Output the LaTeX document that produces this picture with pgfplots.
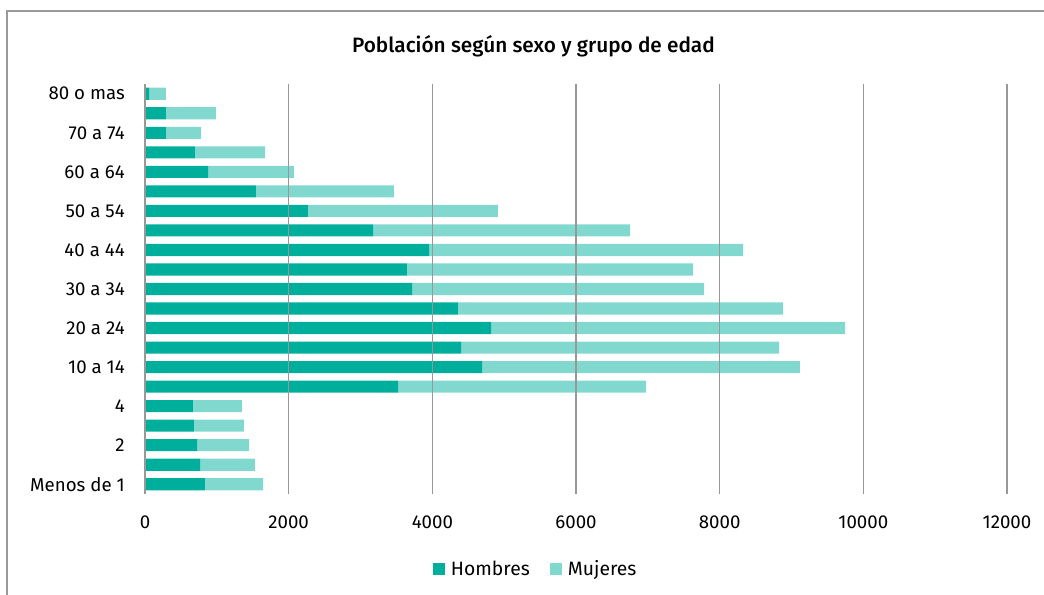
\documentclass[border=0pt]{standalone}
\usepackage{pgfplots}
\pgfplotsset{compat=1.18}
\usepackage{pgfplotstable}
\usepackage{fontspec}
\setmainfont{Fira Sans}
\newfontfamily\titlefont{Fira Sans Medium}

\definecolor{hombres}{HTML}{00AF9B}
\definecolor{mujeres}{HTML}{81D8CF}
\definecolor{gridgray}{HTML}{989898}
\definecolor{framegray}{HTML}{9A9A9A}

% edad: 0 = Menos de 1 ... 20 = 80 o mas
\pgfplotstableread{
y  H    M
0  835  808
1  766  765
2  724  724
3  682  696
4  668  682
5  3522 3453
6  4692 4426
7  4399 4427
8  4817 4928
9  4357 4525
10 3717 4065
11 3647 3982
12 3954 4371
13 3174 3578
14 2269 2645
15 1545 1921
16 877  1197
17 696  975
18 292  488
19 292  696
20 56   236
}\datos

\begin{document}
\begin{tikzpicture}
\useasboundingbox (0,0) rectangle (783pt,-446.25pt);
\begin{axis}[
  at={(108.75pt,-370.5pt)}, anchor=south west,
  scale only axis, width=646.5pt, height=307.5pt,
  xbar stacked, bar width=0.62,
  xmin=0, xmax=12000, ymin=-0.5, ymax=20.5,
  xtick={0,2000,...,12000},
  ytick={0,2,...,20},
  yticklabels={Menos de 1,2,4,10 a 14,20 a 24,30 a 34,40 a 44,50 a 54,60 a 64,70 a 74,80 o mas},
  scaled ticks=false,
  /pgf/number format/assume math mode=true,
  /pgf/number format/1000 sep={},
  axis line style={draw=none},
  tick style={draw=none},
  xmajorgrids,
  grid style={gridgray, line width=1pt},
  axis on top,
  ticklabel style={font=\fontsize{14}{16}\selectfont},
  yticklabel style={anchor=east, inner sep=0pt, xshift=-15pt},
  xticklabel style={anchor=north, inner sep=0pt, yshift=-16.5pt},
  legend style={at={(0.4536,-0.183)}, anchor=center, legend columns=2,
    draw=none, fill=none, font=\fontsize{14.5}{16}\selectfont,
    /tikz/every even column/.append style={column sep=13pt}},
  legend image code/.code={\fill[#1] (0pt,-4.5pt) rectangle (9pt,4.5pt); \path (11.5pt,0pt);},
]
\addplot[fill=hombres, draw=none] table[x=H, y=y]{\datos};
\addplot[fill=mujeres, draw=none] table[x=M, y=y]{\datos};
\legend{Hombres, Mujeres}
\end{axis}
\node[font=\titlefont\fontsize{15.6}{18}\selectfont] at (400.1pt,-34.5pt) {Población según sexo y grupo de edad};
\draw[framegray, line width=1pt] (5.25pt,-460pt) -- (5.25pt,-8.25pt) -- (800pt,-8.25pt);
\end{tikzpicture}
\end{document}
